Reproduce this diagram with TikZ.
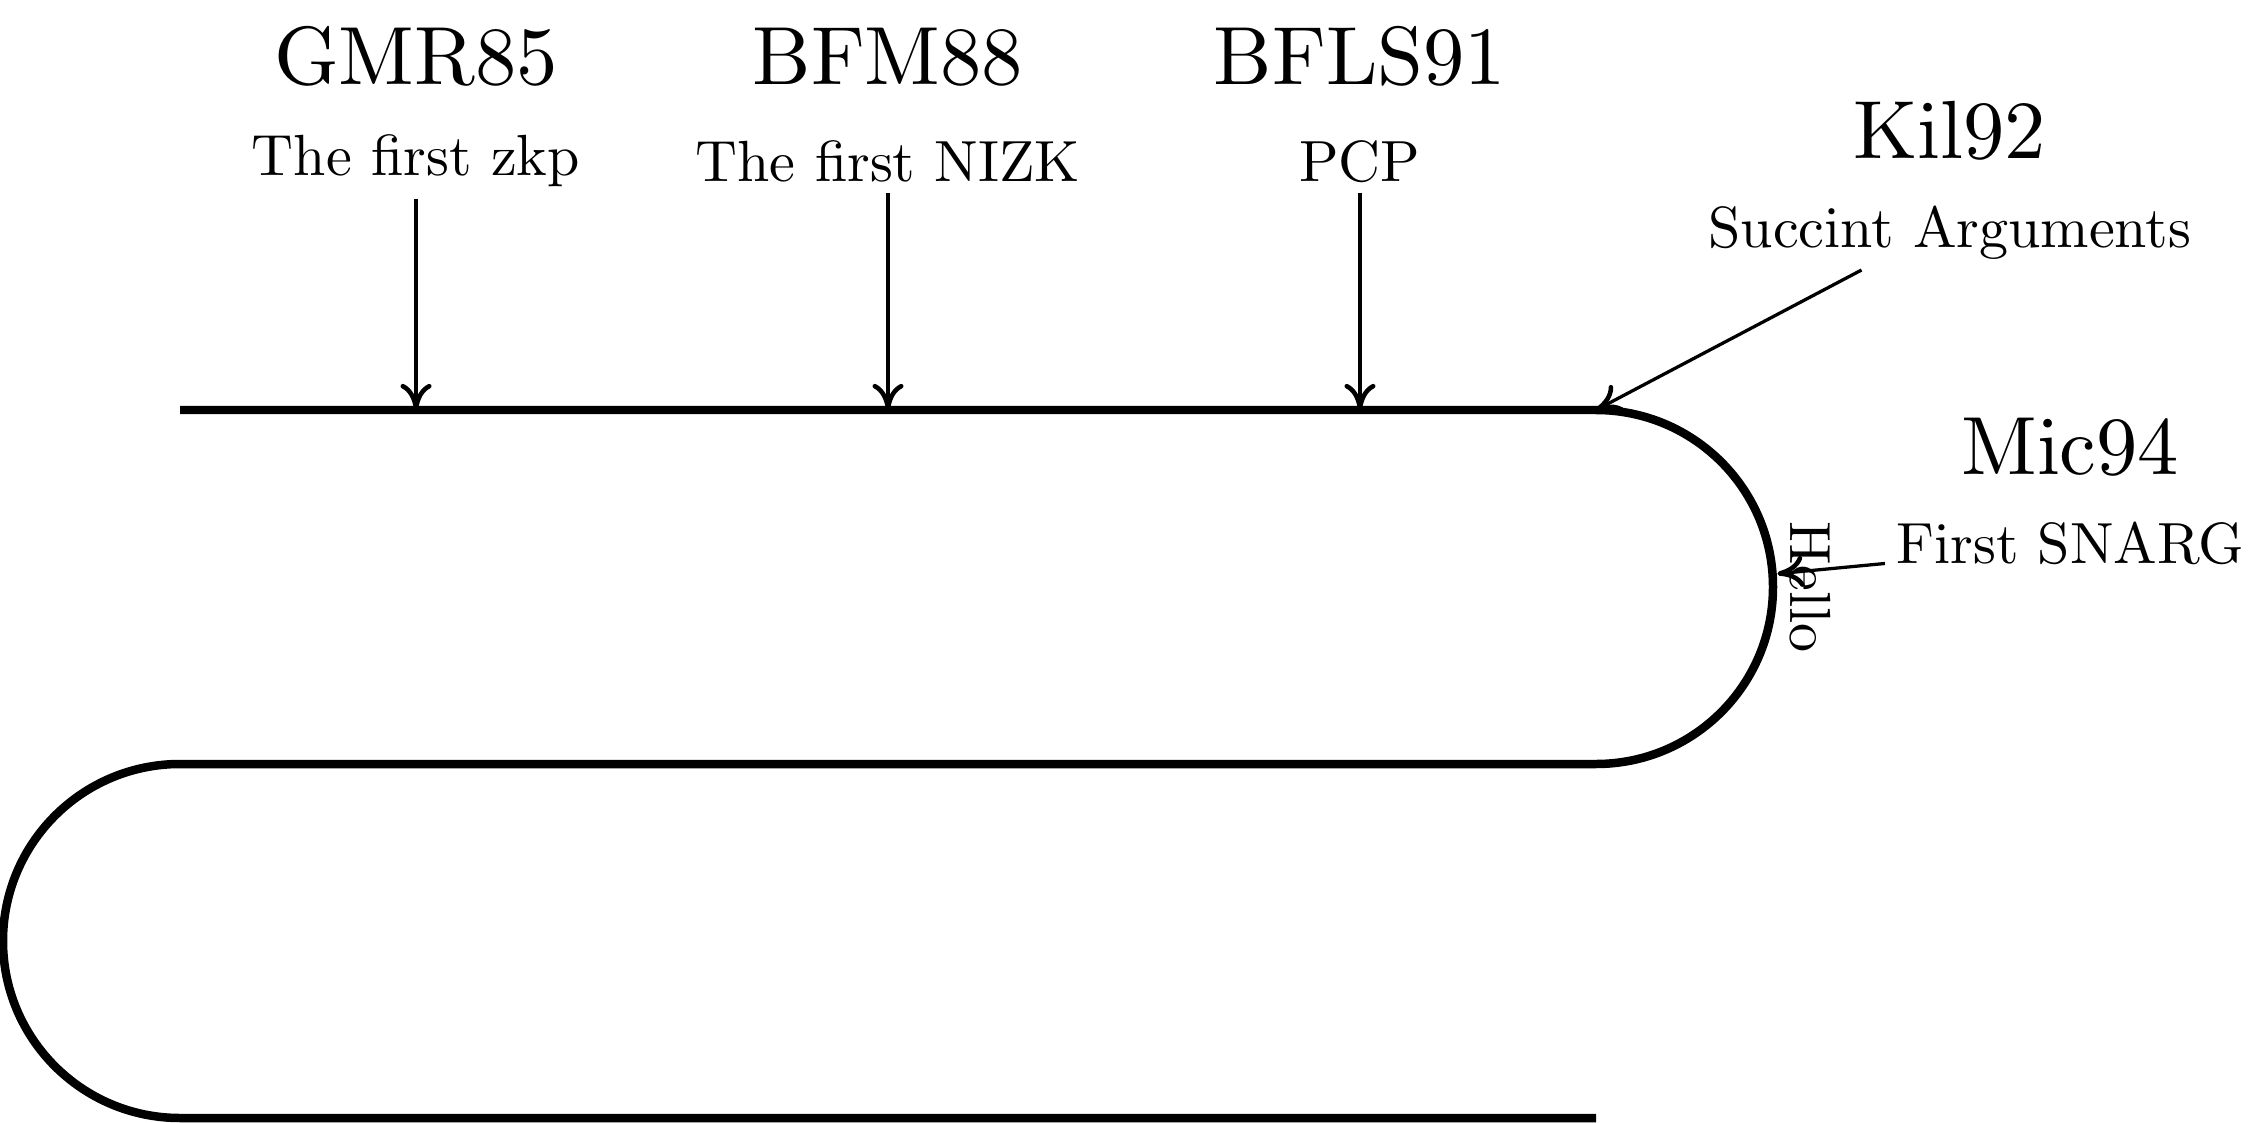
\documentclass[tikz,border=0pt]{standalone}
\usepackage{amsmath,amssymb}
\usepackage{xcolor}
\usepackage{tikz}
\usetikzlibrary{arrows.meta,calc}
\definecolor{trackcolor}{HTML}{000000}
\definecolor{textcolor}{HTML}{000000}
\font\papertitlefont=cmr10 at 25.3pt
\font\papernotefont=cmr10 at 17.8pt
\tikzset{
  track/.style={
    draw=trackcolor,
    line width=2.6pt
  },
  pointer/.style={
    draw=trackcolor,
    line width=1pt,
    -{To[length=8pt,width=9.5pt,line width=1.4pt]}
  },
  paper title/.style={
    font=\papertitlefont,
    text=textcolor
  },
  paper note/.style={
    font=\papernotefont,
    text=textcolor
  }
}
\newcommand{\paperdrop}[1]{%
  \foreach \p in {#1}{
    \draw[pointer] (D-\p.south) -- (P-\p);
  }
}

\begin{document}
\begin{tikzpicture}[x=0.953cm,y=0.953cm]
  \useasboundingbox (-2.034,-8.056) rectangle (23.548,4.633);

  % the winding road
  \draw[track] (0,0) -- (16,0) arc[start angle=90,end angle=-90,radius=2]
    -- (0,-4) arc[start angle=90,end angle=270,radius=2] -- (16,-8);

  \coordinate (P-1) at (2.667,0);
  \coordinate (P-2) at (8,0);
  \coordinate (P-3) at (13.333,0);
  \coordinate (P-4) at (16,0);
  \coordinate (P-5) at (18.05,-1.85);

  \node[paper title] (T-1) at (2.667,4) {GMR85};
  \node[paper title] (T-2) at (8,4) {BFM88};
  \node[paper title] (T-3) at (13.333,4) {BFLS91};
  \node[paper title] (T-4) at (20,3.17) {Kil92};
  \node[paper title] (T-5) at (21.36,-0.41) {Mic94};

  \node[paper note] (D-1) at (2.667,2.81) {The first zkp};
  \node[paper note] (D-2) at (8,2.81) {The first NIZK};
  \node[paper note] (D-3) at (13.333,2.81) {PCP};
  \node[paper note] (D-4) at (20,2.0) {Succint Arguments};
  \node[paper note] (D-5) at (21.36,-1.51) {First SNARG};

  \node[paper note,rotate=-90,anchor=south] (hello) at (18.07,-2) {Hello};

  \paperdrop{1,2,3}
  \draw[pointer] ($(D-4.south)+(-1,0)$) -- (P-4);
  \draw[pointer] (D-5.base west) -- (P-5);
\end{tikzpicture}
\end{document}
